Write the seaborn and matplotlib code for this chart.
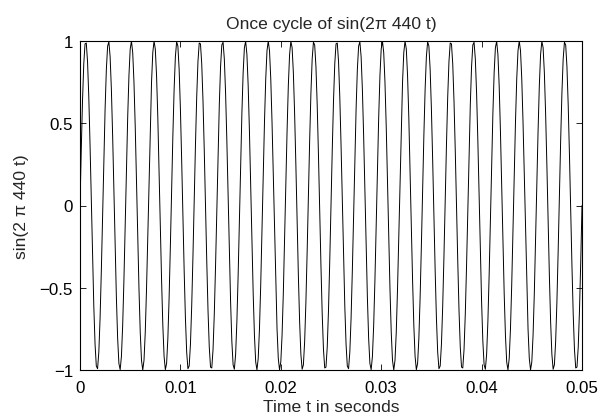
import numpy as np
import pandas as pd
import matplotlib
matplotlib.use("Agg")
import matplotlib.pyplot as plt
import seaborn as sns

# Signal described by the chart's title: sin(2*pi*440*t), t in [0, 0.05] s
freq_hz = 440
duration_s = 0.05
sample_rate = 8000
x_ticks = [0, 0.01, 0.02, 0.03, 0.04, 0.05]
x_tick_labels = ["0", "0.01", "0.02", "0.03", "0.04", "0.05"]
y_ticks = [-1, -0.5, 0, 0.5, 1]
y_tick_labels = ["\u22121", "\u22120.5", "0", "0.5", "1"]
title_text = "Once cycle of sin(2\u03c0 440 t)"
x_label = "Time t in seconds"
y_label = "sin(2 \u03c0 440 t)"

n_samples = int(round(duration_s * sample_rate)) + 1
t = np.arange(n_samples) / sample_rate
signal = np.sin(2 * np.pi * freq_hz * t)
df = pd.DataFrame({"t": t, "y": signal})

sns.set_theme(style="ticks")
plt.rcParams["font.family"] = ["Liberation Sans", "DejaVu Sans"]
plt.rcParams["axes.unicode_minus"] = True

fig = plt.figure(figsize=(6.01, 4.14), dpi=100)
ax = fig.add_axes([80 / 601, 1 - 371 / 414, (582 - 80) / 601, (371 - 42) / 414])

sns.lineplot(data=df, x="t", y="y", ax=ax, color="black", linewidth=0.7,
             estimator=None, sort=False)

ax.set_xlim(0, 0.05)
ax.set_ylim(-1, 1)
ax.set_xticks(x_ticks)
ax.set_xticklabels(x_tick_labels)
ax.set_yticks(y_ticks)
ax.set_yticklabels(y_tick_labels)
ax.tick_params(direction="in", length=4, width=0.6, top=True, right=True,
               labelsize=12.2, colors="black")
ax.tick_params(axis="x", pad=7)
ax.tick_params(axis="y", pad=5)
for s in ax.spines.values():
    s.set_visible(True)
    s.set_linewidth(0.8)
    s.set_color("black")

ax.set_title(title_text, fontsize=12.6, pad=9)
ax.set_xlabel(x_label, fontsize=12.6, labelpad=3)
ax.set_ylabel(y_label, fontsize=12.6, labelpad=8)

fig.savefig("out.png", dpi=100, facecolor="white")
